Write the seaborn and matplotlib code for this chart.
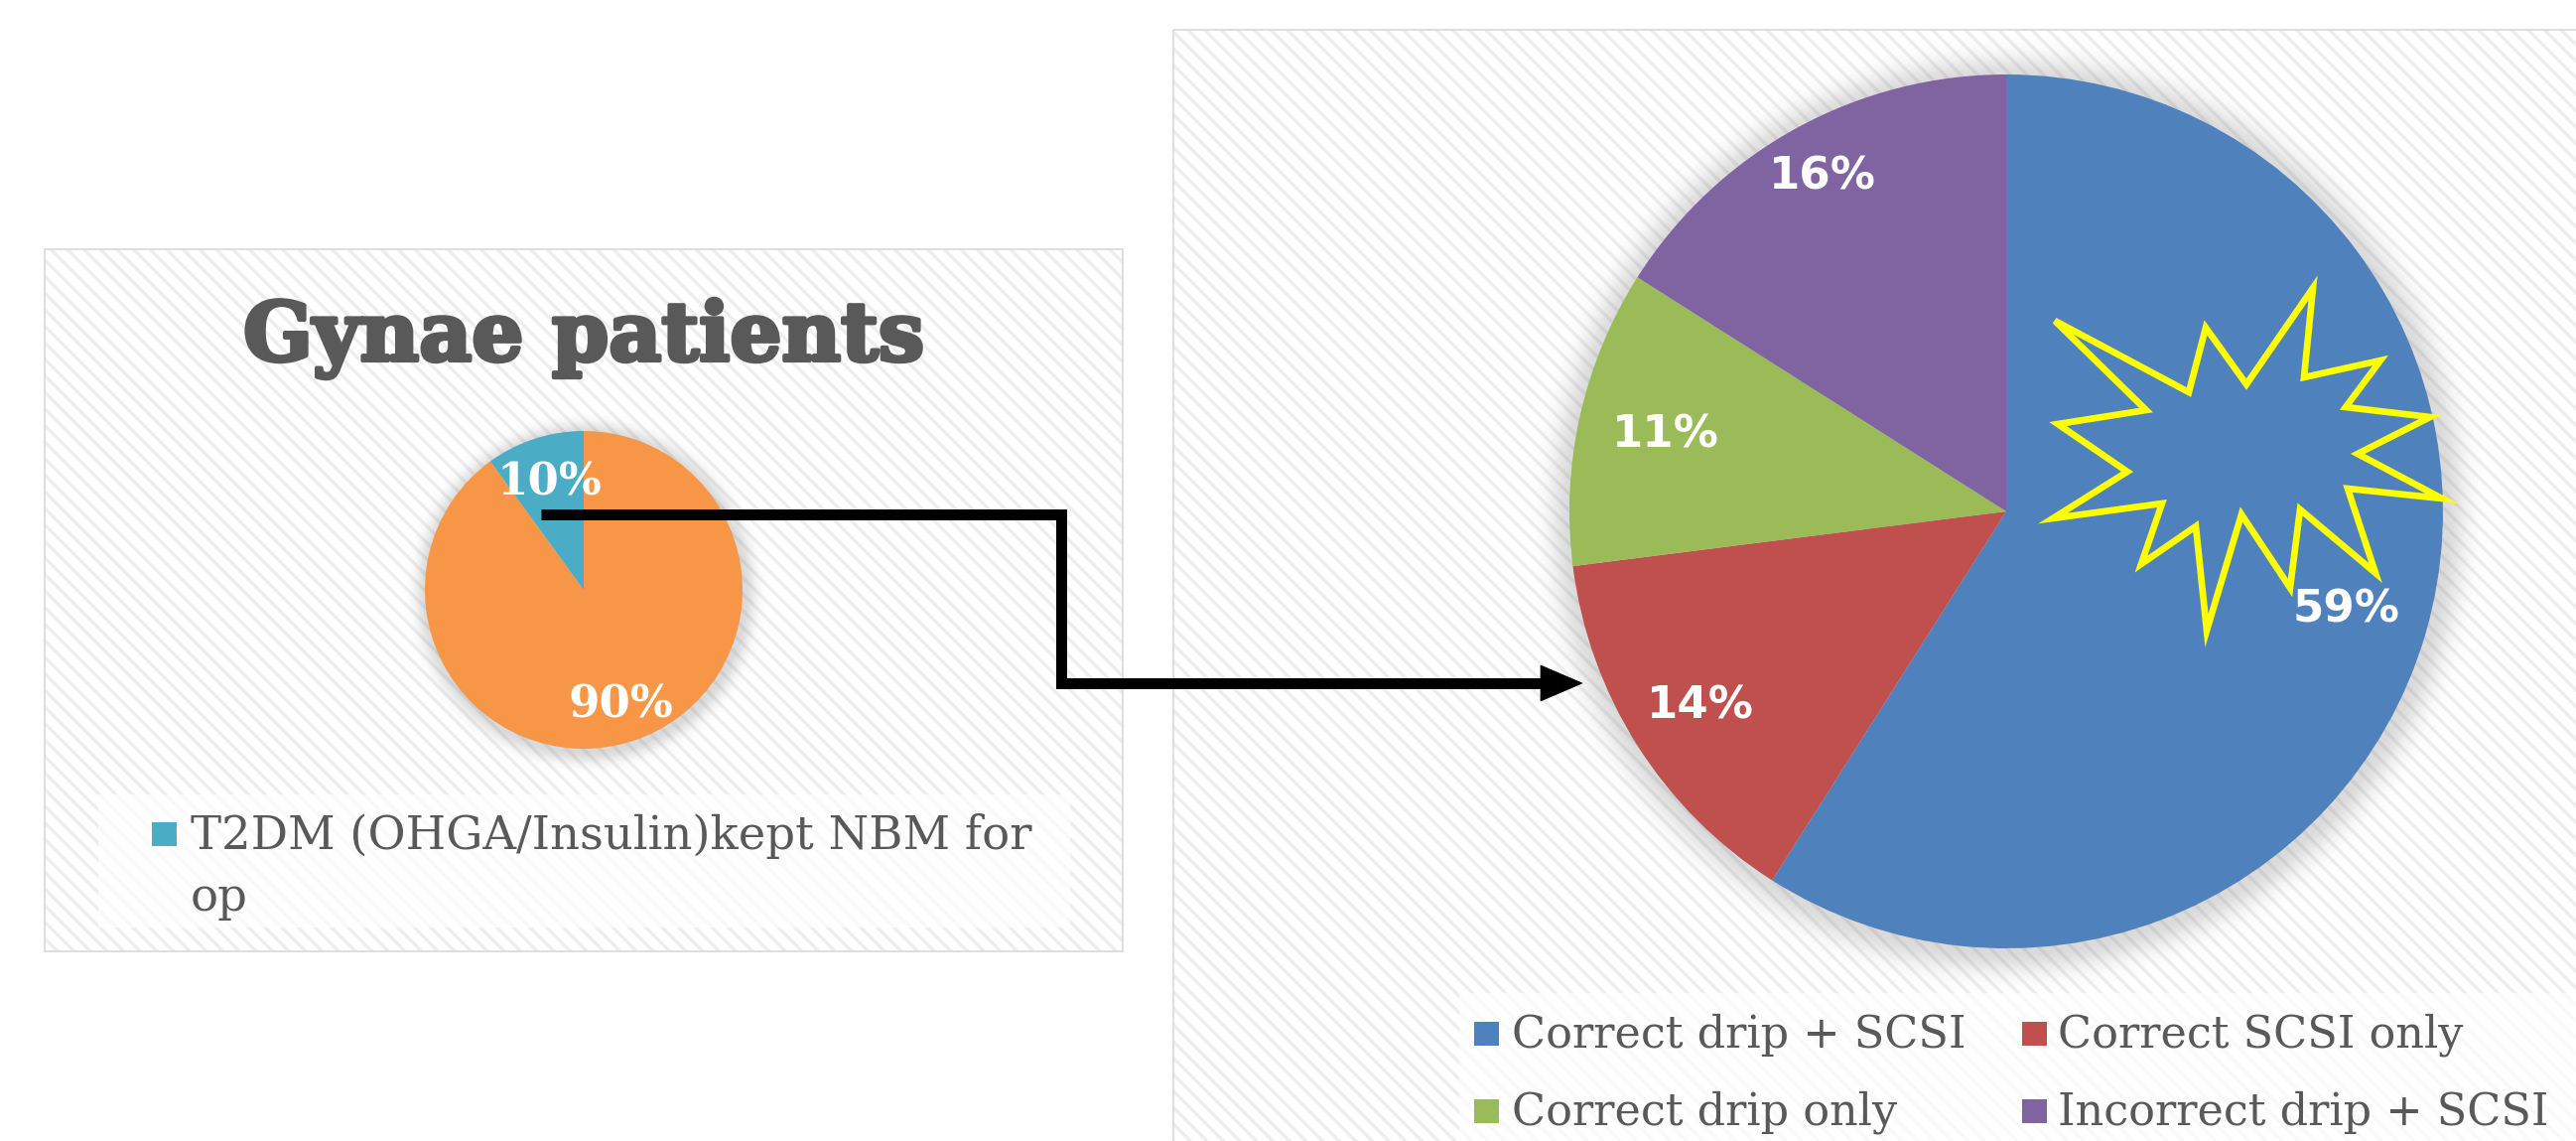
import textwrap
import numpy as np
import matplotlib
matplotlib.use("Agg")
import matplotlib.pyplot as plt
from matplotlib.patches import Rectangle, Polygon
from matplotlib.lines import Line2D
import matplotlib.patheffects as pe
import seaborn as sns

# ---------------- data ----------------
gynae_title = "Gynae patients"
gynae_labels = ["", "T2DM (OHGA/Insulin)kept NBM for op"]
gynae_values = [90, 10]
gynae_colors = ["#F79646", "#4BACC6"]

mgmt_labels = ["Correct drip + SCSI", "Correct SCSI only",
               "Correct drip only", "Incorrect drip + SCSI"]
mgmt_values = [59, 14, 11, 16]
mgmt_colors = ["#4F81BD", "#C0504D", "#9BBB59", "#8064A2"]

# label placement (fraction of radius), styling only
gynae_label_dist = [0.76, 0.71]
mgmt_label_dist = [0.81, 0.83, 0.80, 0.875]

# ---------------- setup ----------------
sns.set_theme(style="white")
plt.rcParams["hatch.linewidth"] = 2.5
W, H, DPI = 2595, 1149, 100
fig = plt.figure(figsize=(W / DPI, H / DPI), dpi=DPI)
fig.patch.set_facecolor("white")
TXT = "#595959"

# background overlay in pixel coordinates
bg = fig.add_axes([0, 0, 1, 1])
bg.set_xlim(0, W)
bg.set_ylim(H, 0)
bg.axis("off")


def panel(ax, x0, y0, x1, y1):
    ax.add_patch(Rectangle((x0, y0), x1 - x0, y1 - y0, facecolor="white",
                           edgecolor="#eeeeee", hatch="\\\\", linewidth=0, zorder=1))
    ax.add_patch(Rectangle((x0, y0), x1 - x0, y1 - y0, facecolor="none",
                           edgecolor="#d9d9d9", linewidth=1.2, zorder=1.5))


def shadow(ax, cx, cy, r, width, strength):
    pad = width * 3
    x0, x1 = cx - r - pad, cx + r + pad
    y0, y1 = cy - r - pad, cy + r + pad
    n = int(x1 - x0)
    xs = np.linspace(x0, x1, n)
    ys = np.linspace(y0, y1, n)
    X, Y = np.meshgrid(xs, ys)
    d = np.hypot(X - cx - 2, Y - cy - 3)
    a = np.where(d < r, strength, strength * np.exp(-((d - r) / width) ** 2))
    img = np.zeros((n, n, 4))
    img[..., :3] = 0.35
    img[..., 3] = a
    ax.imshow(img, extent=(x0, x1, y1, y0), origin="upper", aspect="auto",
              interpolation="bilinear", zorder=2)


panel(bg, 45, 251, 1131, 958)
panel(bg, 1182, 30, W + 5, H + 5)
# legend backgrounds
bg.add_patch(Rectangle((99, 800), 979, 134, facecolor="white", alpha=0.7,
                       linewidth=0, zorder=1.6))
bg.add_patch(Rectangle((1470, 1000), W - 1470, H - 1000, facecolor="white",
                       alpha=0.7, linewidth=0, zorder=1.6))

L_CX, L_CY, L_R = 588, 594, 160
R_CX, R_CY, R_R = 2021, 515, 440
shadow(bg, L_CX, L_CY, L_R, 12, 0.22)
shadow(bg, R_CX, R_CY, R_R, 22, 0.22)
bg.set_xlim(0, W)
bg.set_ylim(H, 0)


def pie_axes(cx, cy, r):
    ax = fig.add_axes([(cx - r) / W, 1 - (cy + r) / H, 2 * r / W, 2 * r / H])
    ax.set_facecolor("none")
    return ax


def place_labels(wedges, autotexts, dists):
    for w, t, d in zip(wedges, autotexts, dists):
        mid = np.deg2rad((w.theta1 + w.theta2) / 2)
        t.set_position((d * np.cos(mid), d * np.sin(mid)))


# left pie
axL = pie_axes(L_CX, L_CY, L_R)
wL, _, atL = axL.pie(gynae_values, colors=gynae_colors, startangle=90,
                     counterclock=False, autopct=lambda p: f"{p:.0f}%",
                     wedgeprops=dict(linewidth=0),
                     textprops=dict(color="white", fontsize=32.5,
                                    fontweight="bold", family="DejaVu Serif"))
place_labels(wL, atL, gynae_label_dist)
axL.set_xlim(-1, 1)
axL.set_ylim(-1, 1)
axL.axis("off")

# right pie
axR = pie_axes(R_CX, R_CY, R_R)
wR, _, atR = axR.pie(mgmt_values, colors=mgmt_colors, startangle=90,
                     counterclock=False, autopct=lambda p: f"{p:.0f}%",
                     wedgeprops=dict(linewidth=0),
                     textprops=dict(color="white", fontsize=32.5,
                                    fontweight="bold", family="DejaVu Sans"))
place_labels(wR, atR, mgmt_label_dist)
axR.set_xlim(-1, 1)
axR.set_ylim(-1, 1)
axR.axis("off")

# top overlay
top = fig.add_axes([0, 0, 1, 1])
top.set_xlim(0, W)
top.set_ylim(H, 0)
top.axis("off")
top.set_facecolor("none")

# title
top.text(588, 363, gynae_title, ha="center", va="baseline", fontsize=59,
         fontweight="bold", family="DejaVu Serif", color=TXT,
         path_effects=[pe.withStroke(linewidth=3, foreground=TXT)])

# left legend (only the labelled slice)
for lab, col in zip(gynae_labels, gynae_colors):
    if not lab:
        continue
    top.add_patch(Rectangle((153, 828), 25, 24, facecolor=col, linewidth=0))
    for k, line in enumerate(textwrap.wrap(lab, width=31)):
        top.text(192, 855 + 62 * k, line, ha="left", va="baseline",
                 fontsize=33.5, family="DejaVu Serif", color=TXT)

# right legend
col_sq = [1485, 2037]
col_tx = [1523, 2073]
row_base = [1055, 1133]
for i, (lab, col) in enumerate(zip(mgmt_labels, mgmt_colors)):
    c, r = i % 2, i // 2
    top.add_patch(Rectangle((col_sq[c], row_base[r] - 26), 25, 24,
                            facecolor=col, linewidth=0))
    top.text(col_tx[c], row_base[r], lab, ha="left", va="baseline",
             fontsize=32, family="DejaVu Serif", color=TXT)

# elbow connector arrow
top.add_line(Line2D([545, 1069, 1069, 1556], [518, 518, 688, 688],
                    color="black", linewidth=7.9, solid_joinstyle="miter",
                    solid_capstyle="butt"))
top.add_patch(Polygon([(1552, 670), (1594, 688), (1552, 706)], closed=True,
                      facecolor="black", edgecolor="black", linewidth=0.5))

# explosion shape
star = [(2070, 323), (2205, 395), (2222, 330), (2263, 387), (2330, 290),
        (2321, 380), (2398, 363), (2363, 410), (2448, 420), (2375, 457),
        (2460, 502), (2365, 492), (2393, 577), (2317, 513), (2307, 592),
        (2258, 518), (2223, 635), (2212, 530), (2157, 568), (2178, 507),
        (2068, 522), (2143, 475), (2073, 427), (2162, 413)]
top.add_patch(Polygon(star, closed=True, facecolor="none", edgecolor="#FFFF00",
                      linewidth=4.8, joinstyle="miter"))

fig.savefig("out.png", dpi=DPI)
